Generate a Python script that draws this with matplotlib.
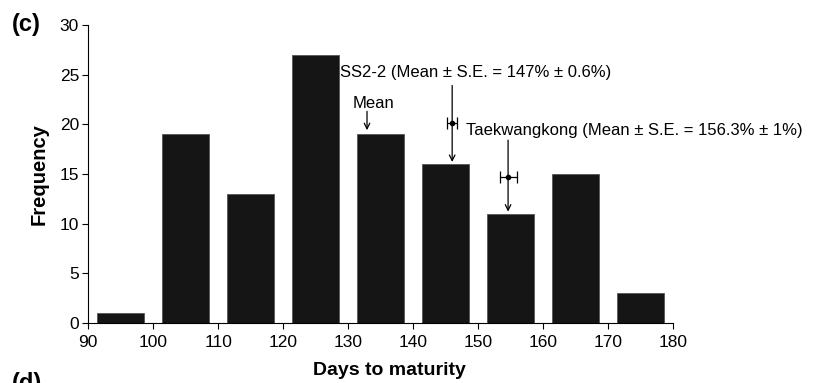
import matplotlib.pyplot as plt
import numpy as np

plt.rcParams["font.family"] = ["Liberation Sans", "DejaVu Sans"]

# histogram of days to maturity
bin_left = [90, 100, 110, 120, 130, 140, 150, 160, 170]
freq = [1, 19, 13, 27, 19, 16, 11, 15, 3]

# cultivar markers (mean, s.e.)
ss_mean, ss_se, ss_y = 146.0, 0.8, 20.1
tk_mean, tk_se, tk_y = 154.6, 1.3, 14.7
pop_mean = 132.9

fig = plt.figure(figsize=(8.16, 3.83), dpi=100)
ax = fig.add_axes([0.108, 0.157, 0.717, 0.778])

centers = np.array(bin_left) + 5
ax.bar(centers, freq, width=7.3, color="#151515", edgecolor="#555555",
       linewidth=0.6, zorder=2)

ax.set_xlim(90, 180)
ax.set_ylim(0, 30)
ax.set_xticks(range(90, 181, 10))
ax.set_yticks(range(0, 31, 5))
for s in ("top", "right"):
    ax.spines[s].set_visible(False)
ax.spines["left"].set_linewidth(0.8)
ax.spines["bottom"].set_linewidth(0.8)
ax.tick_params(direction="out", length=4, width=0.8, labelsize=12.5)
ax.tick_params(axis="x", pad=5)
ax.tick_params(axis="y", pad=2.5)
ax.set_xlabel("Days to maturity", fontsize=14, fontweight="bold", labelpad=4)
ax.xaxis.set_label_coords(0.515, -0.13)
ax.set_ylabel("Frequency", fontsize=14.5, fontweight="bold", labelpad=8)

arrow = dict(arrowstyle="->", color="black", lw=0.9, shrinkA=0, shrinkB=0)

# population mean
ax.annotate("", xy=(pop_mean, 19.4), xytext=(pop_mean, 21.3), arrowprops=arrow)
ax.text(pop_mean + 1.0, 22.1, "Mean", fontsize=12, ha="center", va="center")

# SS2-2
ax.annotate("", xy=(ss_mean, 16.2), xytext=(ss_mean, 23.9), arrowprops=arrow)
ax.errorbar(ss_mean, ss_y, xerr=ss_se, fmt="o", ms=3, color="black",
            capsize=4, elinewidth=0.9, capthick=0.9, zorder=4)
ax.text(128.8, 25.2, "SS2-2 (Mean \u00b1 S.E. = 147% \u00b1 0.6%)",
        fontsize=12, ha="left", va="center")

# Taekwangkong
ax.annotate("", xy=(tk_mean, 11.2), xytext=(tk_mean, 18.4), arrowprops=arrow)
ax.errorbar(tk_mean, tk_y, xerr=tk_se, fmt="o", ms=3, color="black",
            capsize=4, elinewidth=0.9, capthick=0.9, zorder=4)
ax.text(148.1, 19.4, "Taekwangkong (Mean \u00b1 S.E. = 156.3% \u00b1 1%)",
        fontsize=12, ha="left", va="center", clip_on=False)

fig.text(0.014, 0.935, "(c)", fontsize=17, fontweight="bold", va="center")
fig.text(0.014, 0.03, "(d)", fontsize=17, fontweight="bold", va="top")

fig.savefig("out.png", dpi=100)
